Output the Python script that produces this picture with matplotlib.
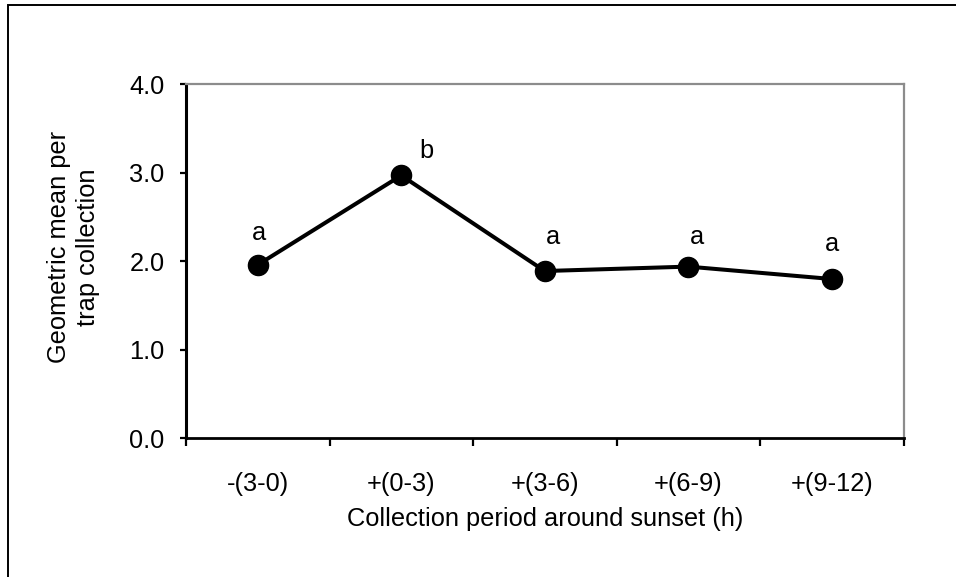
import matplotlib
matplotlib.use("Agg")
import matplotlib.pyplot as plt
from matplotlib.patches import Rectangle
import numpy as np

categories = ["-(3-0)", "+(0-3)", "+(3-6)", "+(6-9)", "+(9-12)"]
geo_mean = [1.96, 2.97, 1.89, 1.94, 1.80]
letters = ["a", "b", "a", "a", "a"]
yticks = [0.0, 1.0, 2.0, 3.0, 4.0]

plt.rcParams['font.family'] = ['Liberation Sans', 'DejaVu Sans']
FS = 18.3

fig = plt.figure(figsize=(9.56, 5.77), dpi=100)
ax = fig.add_axes([186/956, 1-438.3/577, (903.5-186)/956, (438.3-84.3)/577])

x = np.arange(1, len(categories)+1)
ax.plot(x, geo_mean, color='black', lw=2.9, marker='o', ms=14.5,
        markerfacecolor='black', markeredgecolor='black', zorder=3)

# letter offsets in pixels (dx, dy)
offsets = [(1, 32), (25, 24), (8, 34), (9, 30), (0, 35)]
for xi, yi, lt, (dx, dy) in zip(x, geo_mean, letters, offsets):
    ax.annotate(lt, (xi, yi), xytext=(dx*0.72, dy*0.72), textcoords='offset points',
                ha='center', va='center', fontsize=FS)

ax.set_xlim(0.5, len(categories)+0.5)
ax.set_ylim(0, 4)
ax.set_yticks(yticks)
ax.set_yticklabels([f"{v:.1f}" for v in yticks], fontsize=FS)
ax.set_xticks(x)
ax.set_xticklabels(categories, fontsize=FS)
ax.set_xticks(np.arange(0.5, len(categories)+1, 1), minor=True)
ax.tick_params(axis='x', which='major', length=0, pad=24)
ax.tick_params(axis='x', which='minor', length=6, width=1.6, direction='out', color='black')
ax.tick_params(axis='y', which='major', length=4.5, width=1.6, direction='out', pad=11)

ax.spines['left'].set_linewidth(2.2)
ax.spines['bottom'].set_linewidth(2.0)
ax.spines['left'].set_color('black')
ax.spines['bottom'].set_color('black')
ax.spines['top'].set_color('#8c8c8c')
ax.spines['right'].set_color('#8c8c8c')
ax.spines['top'].set_linewidth(1.6)
ax.spines['right'].set_linewidth(1.6)

ax.set_xlabel("Collection period around sunset (h)", fontsize=FS, labelpad=8)
ax.set_ylabel("Geometric mean per\ntrap collection", fontsize=FS, linespacing=1.25)
ax.yaxis.set_label_coords(-0.12, 0.54)

# outer frame
fig.patches.append(Rectangle((8/956, -0.1), 1.2, 1-4.5/577+0.1, transform=fig.transFigure,
                             fill=False, edgecolor='black', lw=1.4))

fig.savefig("out.png", dpi=100)
